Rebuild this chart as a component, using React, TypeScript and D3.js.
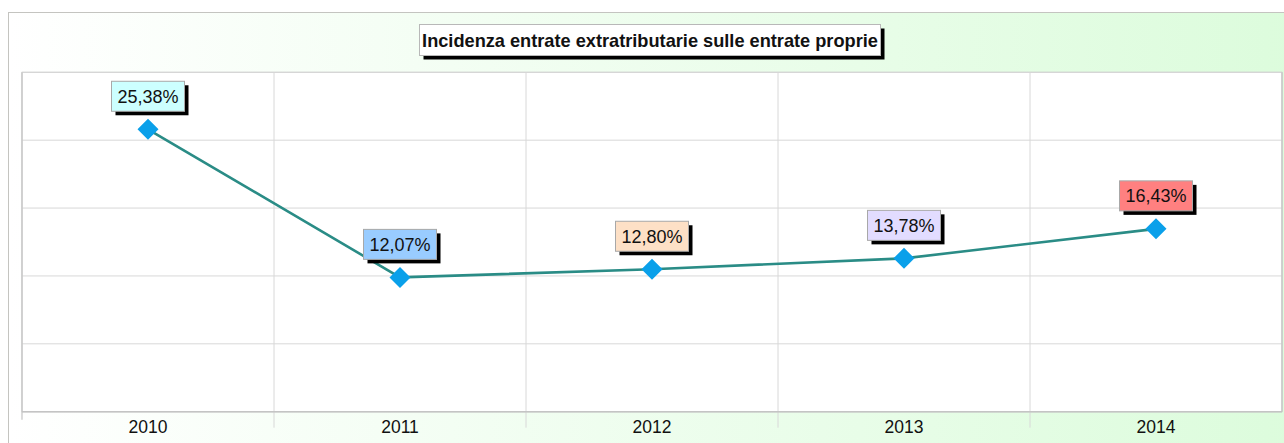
import React from "react";
import * as d3 from "d3";

const categories = ["2010", "2011", "2012", "2013", "2014"];
const values = [25.38, 12.07, 12.8, 13.78, 16.43];
const valueLabels = ["25,38%", "12,07%", "12,80%", "13,78%", "16,43%"];
const labelColors = ["#ccffff", "#99ccff", "#fde0c6", "#e2dcff", "#ff8080"];
const title = "Incidenza entrate extratributarie sulle entrate proprie";

const W = 1284;
const H = 443;
const plot = { left: 22, right: 1282, top: 72.3, bottom: 411.7 };
const FONT = "Arial, 'Liberation Sans', sans-serif";

export default function App() {
  const x = d3.scaleBand<string>().domain(categories).range([plot.left, plot.right]).padding(0);
  const y = d3.scaleLinear().domain([0, 30.5]).range([plot.bottom, plot.top]);
  const gridVals = d3.range(0, 6).map((i) => plot.bottom - (i * (plot.bottom - plot.top)) / 5);
  const cx = (c: string) => (x(c) as number) + x.bandwidth() / 2;
  const line = d3
    .line<number>()
    .x((_, i) => cx(categories[i]))
    .y((d) => y(d));
  const dsz = 10.5;
  const diamond = `M0,${-dsz}L${dsz},0L0,${dsz}L${-dsz},0Z`;
  const boxW = 73;
  const boxH = 30;

  return (
    <svg
      width={W}
      height={H}
      style={{ position: "absolute", left: 0, top: 0, display: "block" }}
    >
      <defs>
        <linearGradient id="bg" x1="0" x2="1" y1="0" y2="0">
          <stop offset="0" stopColor="#ffffff" />
          <stop offset="1" stopColor="#dcfcdc" />
        </linearGradient>
      </defs>
      <rect x={0} y={0} width={W} height={H} fill="#ffffff" />
      <rect x={8.5} y={12.5} width={W + 10} height={H + 10} fill="url(#bg)" stroke="#c4c4c0" strokeWidth={1} />
      {/* plot area */}
      <rect
        x={plot.left}
        y={plot.top}
        width={plot.right - plot.left}
        height={plot.bottom - plot.top}
        fill="#ffffff"
        stroke="#c8c8c8"
        strokeWidth={1}
      />
      {gridVals.map((gy, i) => (
        <line key={"h" + i} x1={plot.left} x2={plot.right} y1={gy} y2={gy} stroke="#d8d8d8" strokeWidth={1} />
      ))}
      {categories.slice(1).map((c) => (
        <line
          key={"v" + c}
          x1={x(c) as number}
          x2={x(c) as number}
          y1={plot.top}
          y2={plot.bottom + 16}
          stroke="#d8d8d8"
          strokeWidth={1}
        />
      ))}
      <line x1={plot.left} x2={plot.left} y1={plot.top} y2={plot.bottom + 8} stroke="#c4c4c4" strokeWidth={1.2} />
      <line x1={plot.left} x2={plot.right} y1={plot.bottom} y2={plot.bottom} stroke="#c4c4c4" strokeWidth={1.5} />
      <line x1={plot.right} x2={plot.right} y1={plot.top} y2={plot.bottom} stroke="#c4c4c4" strokeWidth={1.2} />
      {categories.map((c) => (
        <text key={"t" + c} x={cx(c)} y={433} textAnchor="middle" fontFamily={FONT} fontSize={17.5} fill="#111">
          {c}
        </text>
      ))}
      <path d={line(values) || ""} fill="none" stroke="#2a8c86" strokeWidth={2.6} />
      {values.map((v, i) => (
        <path key={"d" + i} d={diamond} transform={`translate(${cx(categories[i])},${y(v)})`} fill="#0aa0ea" />
      ))}
      {values.map((v, i) => {
        const px = cx(categories[i]);
        const by = y(v) - 18 - boxH;
        const bx = px - boxW / 2;
        return (
          <g key={"l" + i}>
            <rect x={bx + 4} y={by + 4} width={boxW} height={boxH} fill="#000" />
            <rect x={bx} y={by} width={boxW} height={boxH} fill={labelColors[i]} stroke="#a8a8a8" strokeWidth={1} />
            <text x={px} y={by + 21.5} textAnchor="middle" fontFamily={FONT} fontSize={18} fill="#111">
              {valueLabels[i]}
            </text>
          </g>
        );
      })}
      {/* title */}
      <rect x={423.5} y={28.5} width={461} height={31} fill="#000" />
      <rect x={419.5} y={24.5} width={461} height={31} fill="#ffffff" stroke="#b8b8b8" strokeWidth={1} />
      <text x={650} y={46.5} textAnchor="middle" fontFamily={FONT} fontWeight="bold" fontSize={18.2} fill="#111">
        {title}
      </text>
    </svg>
  );
}
